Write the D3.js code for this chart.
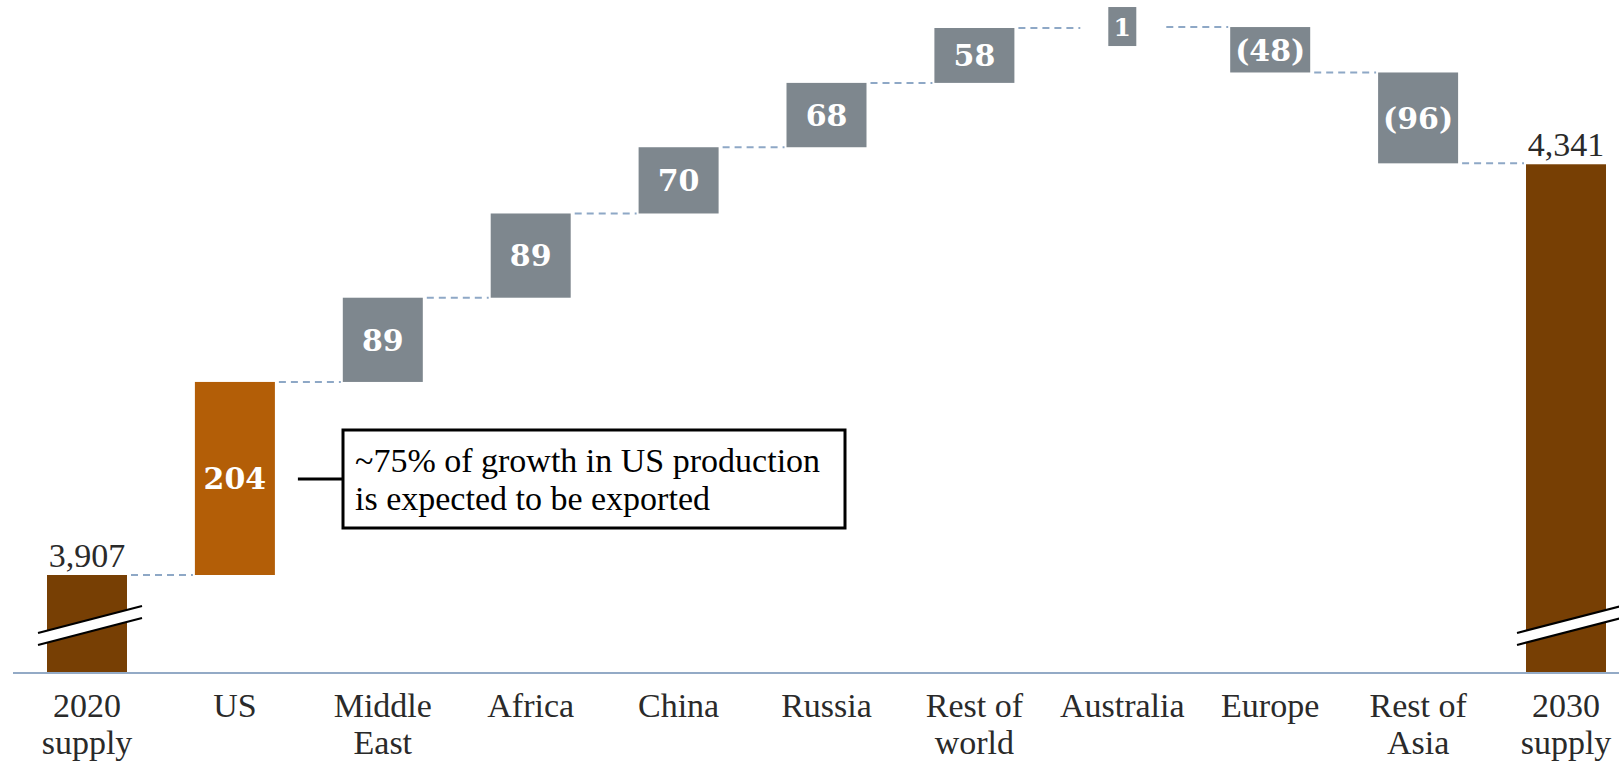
<!DOCTYPE html>
<html>
<head>
<meta charset="utf-8">
<script src="https://cdn.jsdelivr.net/npm/d3@7"></script>
<style>
  html, body { margin: 0; padding: 0; background: #ffffff; }
  svg { display: block; }
</style>
</head>
<body>
<svg id="chart" width="1619" height="764"></svg>
<script>
// ---- data ----
const categories = ["2020 supply", "US", "Middle East", "Africa", "China", "Russia",
                    "Rest of world", "Australia", "Europe", "Rest of Asia", "2030 supply"];
const categoryLines = [["2020", "supply"], ["US"], ["Middle", "East"], ["Africa"], ["China"], ["Russia"],
                       ["Rest of", "world"], ["Australia"], ["Europe"], ["Rest of", "Asia"], ["2030", "supply"]];
const startTotal = 3907;
const endTotal = 4341;
const deltas = [204, 89, 89, 70, 68, 58, 1, -48, -96];
const annotationLines = ["~75% of growth in US production", "is expected to be exported"];

// ---- styles ----
const COL_TOTAL = "#773f04";
const COL_US = "#b35e07";
const COL_GRAY = "#7e878e";
const COL_CONN = "#8ea8c6";
const COL_TEXT = "#2a2a2a";
const FONT = "'Liberation Serif', 'Times New Roman', serif";
const FONT_BOLD = "'DejaVu Serif', Georgia, serif";

const svg = d3.select("#chart");

// ---- build waterfall rows ----
const rows = [];
let level = startTotal;
rows.push({ cat: categories[0], type: "total", lo: startTotal, hi: startTotal, end: startTotal, label: d3.format(",")(startTotal) });
deltas.forEach((d, i) => {
  const from = level, to = level + d;
  rows.push({ cat: categories[i + 1], type: i === 0 ? "us" : "delta", lo: Math.min(from, to), hi: Math.max(from, to), end: to, value: d,
              label: d < 0 ? "(" + Math.abs(d) + ")" : String(d) });
  level = to;
});
rows.push({ cat: categories[10], type: "total", lo: endTotal, hi: endTotal, end: endTotal, label: d3.format(",")(endTotal) });

// ---- scales ----
const axisY = 673;
const x = d3.scalePoint().domain(categories).range([87, 1566]);
const y = d3.scaleLinear().domain([3907, 4485]).range([575, 28]);
const barW = 80;
const smallBoxW = 28, smallBoxH = 39;

// ---- connectors ----
const conns = [];
for (let i = 0; i < rows.length - 1; i++) {
  conns.push({ x1: x(rows[i].cat) + barW / 2 + 4, x2: x(rows[i + 1].cat) - barW / 2 - 2, y: y(rows[i].end) });
}
svg.append("g").selectAll("line").data(conns).join("line")
  .attr("x1", d => d.x1).attr("x2", d => d.x2)
  .attr("y1", d => d.y).attr("y2", d => d.y)
  .attr("stroke", COL_CONN).attr("stroke-width", 2).attr("stroke-dasharray", "7,5");

// ---- bars ----
const gBars = svg.append("g");
rows.forEach(r => {
  const cx = x(r.cat);
  if (r.type === "total") {
    gBars.append("rect").attr("x", cx - barW / 2).attr("width", barW)
      .attr("y", y(r.hi)).attr("height", axisY - y(r.hi)).attr("fill", COL_TOTAL);
    gBars.append("text").attr("x", cx).attr("y", y(r.hi) - 8)
      .attr("text-anchor", "middle").attr("font-family", FONT).attr("font-size", 34)
      .attr("fill", COL_TEXT).text(r.label);
  } else {
    let top = y(r.hi), bot = y(r.lo), w = barW;
    if (bot - top < 20) {
      const mid = (top + bot) / 2;
      top = mid - smallBoxH / 2 - 1; bot = mid + smallBoxH / 2 - 1; w = smallBoxW;
    }
    gBars.append("rect").attr("x", cx - w / 2).attr("width", w)
      .attr("y", top).attr("height", bot - top)
      .attr("fill", r.type === "us" ? COL_US : COL_GRAY);
    gBars.append("text").attr("x", cx).attr("y", (top + bot) / 2).attr("dy", "0.36em")
      .attr("text-anchor", "middle").attr("font-family", FONT_BOLD).attr("font-weight", "bold")
      .attr("font-size", w < barW ? 25 : 30).attr("fill", "#ffffff").text(r.label);
  }
});

// ---- axis break marks ----
rows.filter(r => r.type === "total").forEach(r => {
  const L = x(r.cat) - barW / 2 - 9, R = x(r.cat) + barW / 2 + 15;
  const yL = 633, yR = 606, gap = 12;
  const g = svg.append("g");
  g.append("polygon").attr("points", [[L, yL], [R, yR], [R, yR + gap], [L, yL + gap]].map(p => p.join(",")).join(" "))
    .attr("fill", "#ffffff");
  g.append("line").attr("x1", L).attr("y1", yL).attr("x2", R).attr("y2", yR).attr("stroke", "#000").attr("stroke-width", 2.2);
  g.append("line").attr("x1", L).attr("y1", yL + gap).attr("x2", R).attr("y2", yR + gap).attr("stroke", "#000").attr("stroke-width", 2.2);
});

// ---- axis ----
svg.append("line").attr("x1", 13).attr("x2", 1619).attr("y1", axisY).attr("y2", axisY)
  .attr("stroke", "#93aac6").attr("stroke-width", 2);

const gLab = svg.append("g").attr("font-family", FONT).attr("font-size", 34).attr("fill", COL_TEXT).attr("text-anchor", "middle");
categories.forEach((c, i) => {
  const t = gLab.append("text").attr("x", x(c)).attr("y", 717);
  categoryLines[i].forEach((ln, j) => {
    t.append("tspan").attr("x", x(c)).attr("y", 717 + j * 37).text(ln);
  });
});

// ---- annotation ----
const usX = x(categories[1]);
svg.append("line").attr("x1", usX + 63).attr("x2", 343).attr("y1", 479).attr("y2", 479)
  .attr("stroke", "#000").attr("stroke-width", 3);
svg.append("rect").attr("x", 343).attr("y", 430).attr("width", 502).attr("height", 98)
  .attr("fill", "#fff").attr("stroke", "#000").attr("stroke-width", 3);
const at = svg.append("text").attr("font-family", FONT).attr("font-size", 34).attr("fill", "#000");
annotationLines.forEach((ln, j) => at.append("tspan").attr("x", 355).attr("y", 472 + j * 38).text(ln));
</script>
</body>
</html>
